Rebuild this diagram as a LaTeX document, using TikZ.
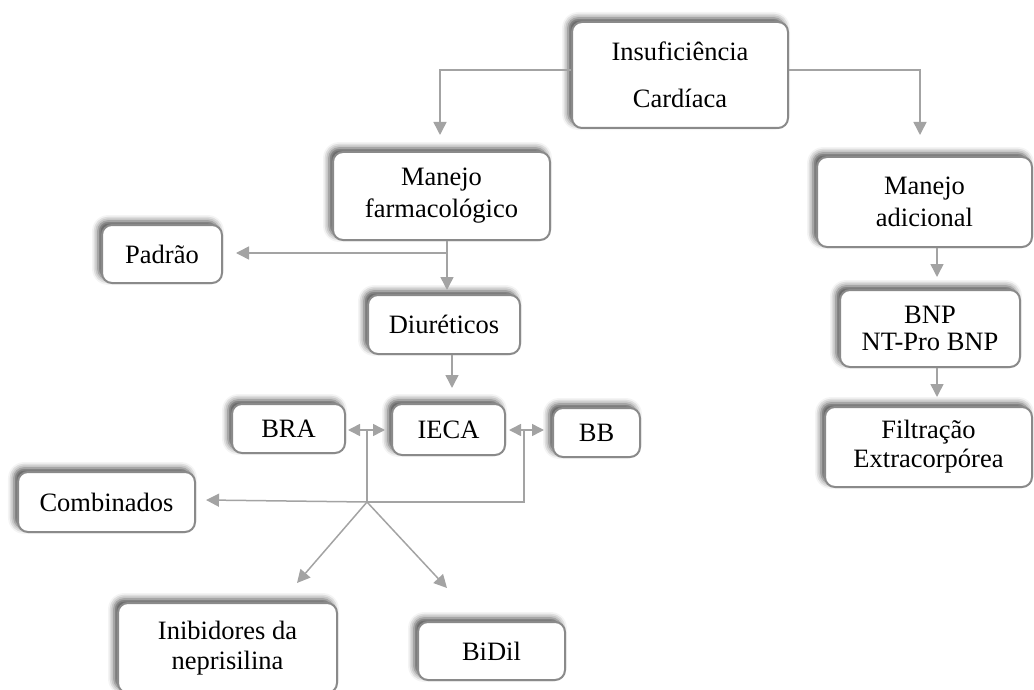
\documentclass[tikz,border=0pt]{standalone}
\usepackage{fontspec}
\setmainfont{Liberation Serif}
\usetikzlibrary{arrows.meta,shadows.blur}
\definecolor{boxline}{HTML}{8A8A8A}
\definecolor{arrowc}{HTML}{A3A3A3}
\begin{document}
\begin{tikzpicture}[x=1pt,y=-1pt,
  box/.style={draw=boxline, line width=2pt, fill=white, rounded corners=10pt,
    align=center, inner sep=0pt, font=\fontsize{26.5}{32}\selectfont,
    blur shadow={shadow xshift=-4pt, shadow yshift=4pt, shadow blur radius=6pt, shadow opacity=70}},
  conn/.style={draw=arrowc, line width=1.5pt},
  arr/.style={conn, -{Triangle[length=13pt,width=13pt]}},
  darr/.style={conn, {Triangle[length=12pt,width=12pt]}-{Triangle[length=12pt,width=12pt]}}]
\useasboundingbox (0,0) rectangle (1034,690);

% nodes
\node[box, minimum width=216pt, minimum height=106pt, font=\fontsize{26.5}{47}\selectfont] (ic) at (680,75) {Insuficiência\\Cardíaca};
\node[box, minimum width=217pt, minimum height=88pt] (mf) at (441.5,196) {Manejo\\farmacológico};
\node[box, minimum width=215pt, minimum height=90pt] (ma) at (924.5,202) {Manejo\\adicional};
\node[box, minimum width=120pt, minimum height=58pt] (pad) at (162,254) {Padrão};
\node[box, minimum width=152pt, minimum height=59pt] (diu) at (444,324.5) {Diuréticos};
\node[box, minimum width=113pt, minimum height=49pt] (bra) at (288.5,428.5) {BRA};
\node[box, minimum width=113pt, minimum height=51pt] (ieca) at (448.5,429.5) {IECA};
\node[box, minimum width=87pt, minimum height=49pt] (bb) at (596.5,432.5) {BB};
\node[box, minimum width=177pt, minimum height=60pt] (comb) at (106.5,502) {Combinados};
\node[box, minimum width=219pt, minimum height=90pt, font=\fontsize{26.5}{30}\selectfont] (inib) at (227.5,648) {Inibidores da\\neprisilina};
\node[box, minimum width=147pt, minimum height=58pt] (bidil) at (491.5,651) {BiDil};
\node[box, minimum width=180pt, minimum height=77pt, font=\fontsize{26.5}{27}\selectfont] (bnp) at (930,328.5) {BNP\\NT-Pro BNP};
\node[box, minimum width=207pt, minimum height=80pt, font=\fontsize{26.5}{29}\selectfont] (filt) at (928.5,447) {Filtração\\Extracorpórea};

% coordinates for free connector ends
\coordinate (t1) at (440,135);
\coordinate (t2) at (920,135);
\coordinate (j1) at (447,253);
\coordinate (t3) at (447,290);
\coordinate (t4) at (236,253);
\coordinate (t5) at (452,388);
\coordinate (h1) at (367,430);
\coordinate (h2) at (524,430);
\coordinate (k) at (367,502);
\coordinate (k2) at (524,502);
\coordinate (t6) at (206,500);
\coordinate (t7) at (297,583);
\coordinate (t8) at (447,588);
\coordinate (t9) at (937,277);
\coordinate (t10) at (937,397);

% connectors
\draw[arr] ([yshift=5pt]ic.west) -| (t1);
\draw[arr] ([yshift=5pt]ic.east) -| (t2);
\draw[arr] (mf.south -| t3) -- (t3);
\draw[arr] (j1) -- (t4);
\draw[arr] (diu.south -| t5) -- (t5);
\draw[darr, shorten <=2pt, shorten >=6pt] (bra.east |- h1) -- (ieca.west |- h1);
\draw[darr, shorten <=3pt, shorten >=8pt] (ieca.east |- h2) -- (bb.west |- h2);
\draw[conn] (h1) -- (k);
\draw[conn] (h2) -- (k2) -- (k);
\draw[arr] (k) -- (t6);
\draw[arr] (k) -- (t7);
\draw[arr] (k) -- (t8);
\draw[arr] (ma.south -| t9) -- (t9);
\draw[arr] (bnp.south -| t10) -- (t10);
\end{tikzpicture}
\end{document}
